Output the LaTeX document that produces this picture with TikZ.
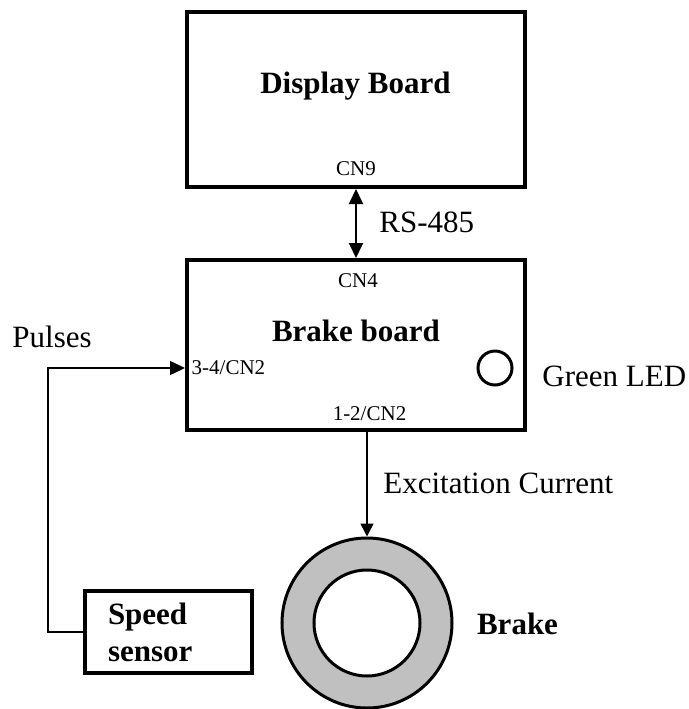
\documentclass[tikz,border=0pt]{standalone}
\usepackage{fontspec}
\setmainfont{Liberation Serif}
\usetikzlibrary{arrows.meta}
\definecolor{ringgray}{RGB}{192,192,192}

\begin{document}
\begin{tikzpicture}[
            x=0.5pt, y=-0.5pt,
            board/.style={
                draw,
                line width=2pt,
                minimum width=169pt,
                minimum height=85pt,
                inner sep=0pt
            },
            title/.style={
                font=\fontsize{15.5}{18}\selectfont\bfseries,
                anchor=base
            },
            port/.style={
                font=\fontsize{10.5}{12}\selectfont,
                anchor=base,
                inner sep=0pt
            },
            note/.style={
                font=\fontsize{15.5}{18}\selectfont,
                anchor=base west,
                inner sep=0pt
            },
            sig/.style={
                -{Triangle[length=7.5pt,width=7pt]}
            }
        ]
            \useasboundingbox (0,0) rectangle (689,709);

            % boards
            \node[board, minimum height=87.5pt] (display) at (356,99.5) {};
            \node[board] (brakebrd) at (356,345) {};
            \node[title] (dtitle) at (355.5,93) {Display Board};
            \node[title] (btitle) at (356,341) {Brake board};

            % connector names
            \foreach \nm/\txt/\x/\y in {
                cn9/CN9/356/175,
                cn4/CN4/358/287,
                cn2in/{3-4/CN2}/228.5/374,
                cn2out/{1-2/CN2}/369.5/420
            } {
                \node[port] (\nm) at (\x,\y) {\txt};
            }

            % signal names
            \foreach \nm/\txt/\x/\y in {
                rs/RS-485/379/232,
                pulses/Pulses/12/347,
                excit/Excitation Current/383/493,
                ledname/Green LED/542/386
            } {
                \node[note] (\nm) at (\x,\y) {\txt};
            }

            \node[circle, draw, line width=1.5pt, minimum size=17pt, inner sep=0pt] (led) at (495,368) {};

            % speed sensor and brake
            \node[board, line width=1.75pt, minimum width=83.5pt, minimum height=41pt,
                  text width=60.5pt, inner xsep=11.5pt, align=left,
                  font=\fontsize{15.5}{18.5}\selectfont\bfseries] (speed) at (168.5,632) {Speed\\sensor};
            \node[circle, draw, line width=1.5pt, fill=ringgray, minimum size=85pt, inner sep=0pt] (ring) at (367,623) {};
            \node[circle, draw, line width=1.5pt, fill=white, minimum size=53pt, inner sep=0pt] (hole) at (ring.center) {};
            \node[title, anchor=base west] (brake) at (470,634) {Brake};

            % links
            \coordinate (bend) at (48,368);
            \draw[line width=1pt, {Triangle[length=7.5pt,width=7pt]}-{Triangle[length=7.5pt,width=7pt]}]
                (display.south -| cn9) -- (brakebrd.north -| cn9);
            \draw[line width=0.75pt, -{Triangle[length=6.5pt,width=6.5pt]}]
                (ring.north |- brakebrd.south) -- (ring.north);
            \draw[line width=0.75pt, sig] (speed.west) -| (bend) -- (bend -| brakebrd.west);
        \end{tikzpicture}
\end{document}
